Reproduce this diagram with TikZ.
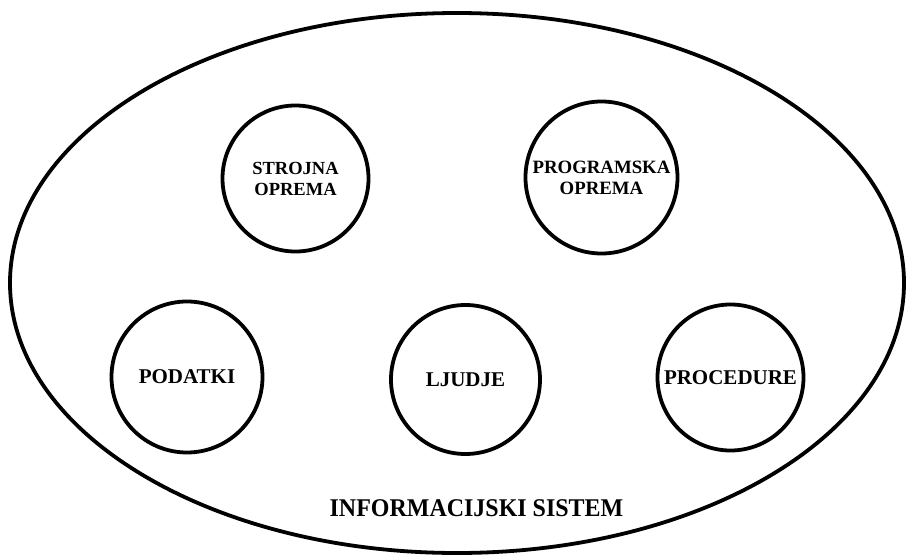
\documentclass[tikz,border=0pt]{standalone}
\usepackage{fontspec}
\setmainfont{Liberation Serif}
\begin{document}
\begin{tikzpicture}[x=1pt,y=-1pt,
  part/.style={circle,draw,line width=3.8pt,align=center,inner sep=0pt},
  big/.style={draw,line width=3.8pt}]
\useasboundingbox (0,0) rectangle (906,557);
% the whole system
\draw[big] (457,283) ellipse [x radius=447, y radius=270];
% its five components
\node[part,minimum size=146pt,font=\bfseries\fontsize{18.5}{21}\selectfont] (hw) at (295.5,178.5) {STROJNA\\OPREMA};
\node[part,minimum size=152pt,font=\bfseries\fontsize{18.8}{21}\selectfont] (sw) at (601.5,177.5) {PROGRAMSKA\\OPREMA};
\node[part,minimum size=151pt,font=\bfseries\fontsize{21}{24}\selectfont] (data) at (187,377) {PODATKI};
\node[part,minimum size=149pt,font=\bfseries\fontsize{21}{24}\selectfont] (ppl) at (465.5,379.5) {LJUDJE};
\node[part,minimum size=146pt,font=\bfseries\fontsize{21}{24}\selectfont] (proc) at (730.5,377.5) {PROCEDURE};
\node[font=\bfseries\fontsize{25.5}{28}\selectfont,inner sep=0pt] (title) at (476.5,508.5) {\scalebox{0.94}[1]{INFORMACIJSKI SISTEM}};
\end{tikzpicture}
\end{document}
